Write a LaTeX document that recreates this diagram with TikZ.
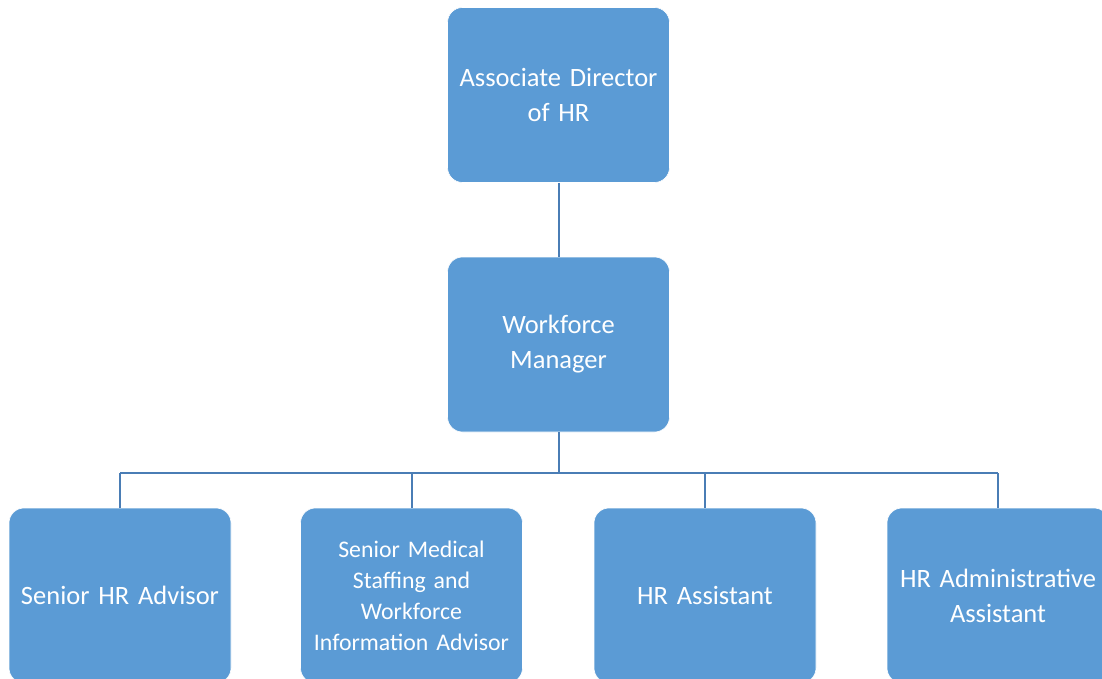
\documentclass[tikz,border=0pt]{standalone}
\usepackage{fontspec}
\setmainfont[WordSpace=0.8]{Carlito}
\definecolor{boxblue}{HTML}{5B9BD5}
\definecolor{linkblue}{HTML}{4A7DB5}
\begin{document}
\begin{tikzpicture}[x=1pt,y=-1pt,
  role/.style={draw=white, line width=0.6pt, fill=boxblue, rounded corners=15pt,
    minimum width=222pt, minimum height=175pt, inner sep=0pt,
    text=white, align=center, text width=210pt,
    font=\fontsize{26.5}{35}\selectfont},
  smallrole/.style={role, font=\fontsize{23.8}{31}\selectfont},
  link/.style={draw=linkblue, line width=2pt}]
  \useasboundingbox (0,0) rectangle (1102,679);
  \clip (0,0) rectangle (1102,679);
  \fill[white] (0,0) rectangle (1102,679);

  % management levels
  \node[role] (dir) at (558.5,95) {Associate Director\\of HR};
  \node[role] (mgr) at (558.5,344.5) {Workforce\\Manager};

  % team members
  \node[role] (sra) at (120,595.5) {Senior HR Advisor};
  \node[smallrole] (smw) at (411.5,595.5) {Senior Medical\\Staffing and\\Workforce\\Information Advisor};
  \node[role] (hra) at (705,595.5) {HR Assistant};
  \node[role] (haa) at (998,595.5) {HR Administrative\\Assistant};

  % reporting lines
  \coordinate (bus) at (0,473);
  \draw[link] (dir.south) -- (mgr.north);
  \draw[link] (mgr.south) -- (mgr.south |- bus);
  \draw[link] (sra.north |- bus) -- (haa.north |- bus);
  \foreach \b in {sra,smw,hra,haa}
    \draw[link] (\b.north) -- (\b.north |- bus);
\end{tikzpicture}
\end{document}
